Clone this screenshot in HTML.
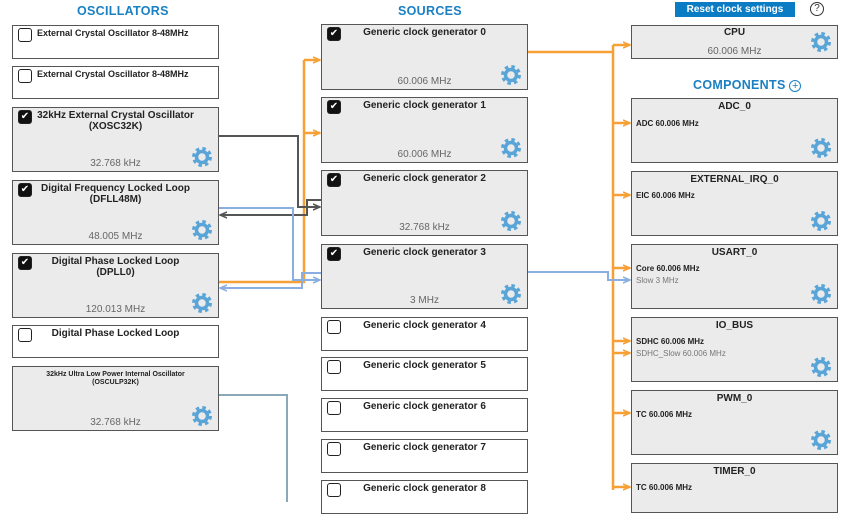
<!DOCTYPE html>
<html><head><meta charset="utf-8"><style>
*{margin:0;padding:0;box-sizing:border-box}
body{width:860px;height:502px;overflow:hidden;background:#fff;font-family:"Liberation Sans",sans-serif;position:relative}
.b{position:absolute;border:1.5px solid #555;background:#ebebeb}
.w{background:#fff}
.t{position:absolute;left:0;right:0;top:2px;text-align:center;font-size:10px;font-weight:bold;color:#222;line-height:11px}
.f{position:absolute;left:0;right:0;bottom:2px;text-align:center;font-size:10px;color:#666}
.cb{position:absolute;left:5px;top:2px;width:14px;height:14px;border:1.5px solid #222;border-radius:3px;background:#fff}
.cb.on{background:#111;color:#fff;font-size:10px;line-height:12px;text-align:center;font-family:"DejaVu Sans",sans-serif}
.g{position:absolute;right:6px;bottom:4px;width:20px;height:20px}
.h{position:absolute;font-size:12.5px;font-weight:bold;color:#1a80c4;letter-spacing:.3px}
.l{position:absolute;left:4px;font-size:8px;font-weight:bold;color:#222}
.l2{position:absolute;left:4px;font-size:8px;color:#777}
svg.c{position:absolute;left:0;top:0}
</style></head><body>
<svg width="0" height="0" style="position:absolute"><defs><g id="gear"><circle cx="10" cy="10" r="8" fill="none" stroke="#5aa5d8" stroke-width="4" stroke-dasharray="3.3 3"/><circle cx="10" cy="10" r="5.5" fill="none" stroke="#5aa5d8" stroke-width="3.5"/></g></defs></svg>
<div class="h" style="left:77px;top:4px">OSCILLATORS</div>
<div class="h" style="left:398px;top:4px">SOURCES</div>
<div style="position:absolute;left:675px;top:2px;width:120px;height:15px;background:#0a7cc4;color:#fff;font-size:10px;font-weight:bold;text-align:center;line-height:15px">Reset clock settings</div>
<div style="position:absolute;left:810px;top:2px;width:14px;height:14px;border:1px solid #333;border-radius:50%;font-size:10px;text-align:center;line-height:12px;color:#333">?</div>
<div class="h" style="left:693px;top:78px">COMPONENTS <span style="display:inline-block;width:12px;height:12px;border:1px solid #1a80c4;border-radius:50%;font-size:11px;line-height:10px;text-align:center;font-weight:normal">+</span></div>

<div class="b w" style="left:12px;top:25px;width:207px;height:34px"><div class="cb"></div><div class="t" style="left:24px;text-align:left;font-size:9px">External Crystal Oscillator 8-48MHz</div></div>
<div class="b w" style="left:12px;top:66px;width:207px;height:33px"><div class="cb"></div><div class="t" style="left:24px;text-align:left;font-size:9px">External Crystal Oscillator 8-48MHz</div></div>
<div class="b" style="left:12px;top:107px;width:207px;height:65px"><div class="cb on">✔</div><div class="t">32kHz External Crystal Oscillator<br>(XOSC32K)</div><div class="f">32.768 kHz</div><svg class="g"><use href="#gear"/></svg></div>
<div class="b" style="left:12px;top:180px;width:207px;height:65px"><div class="cb on">✔</div><div class="t">Digital Frequency Locked Loop<br>(DFLL48M)</div><div class="f">48.005 MHz</div><svg class="g"><use href="#gear"/></svg></div>
<div class="b" style="left:12px;top:253px;width:207px;height:65px"><div class="cb on">✔</div><div class="t">Digital Phase Locked Loop<br>(DPLL0)</div><div class="f">120.013 MHz</div><svg class="g"><use href="#gear"/></svg></div>
<div class="b w" style="left:12px;top:325px;width:207px;height:33px"><div class="cb"></div><div class="t">Digital Phase Locked Loop</div></div>
<div class="b" style="left:12px;top:366px;width:207px;height:65px"><div class="t" style="font-size:7px;line-height:8px;top:4px">32kHz Ultra Low Power Internal Oscillator<br>(OSCULP32K)</div><div class="f">32.768 kHz</div><svg class="g"><use href="#gear"/></svg></div>

<div class="b" style="left:321px;top:24px;width:207px;height:66px"><div class="cb on">✔</div><div class="t">Generic clock generator 0</div><div class="f">60.006 MHz</div><svg class="g"><use href="#gear"/></svg></div>
<div class="b" style="left:321px;top:97px;width:207px;height:66px"><div class="cb on">✔</div><div class="t">Generic clock generator 1</div><div class="f">60.006 MHz</div><svg class="g"><use href="#gear"/></svg></div>
<div class="b" style="left:321px;top:170px;width:207px;height:66px"><div class="cb on">✔</div><div class="t">Generic clock generator 2</div><div class="f">32.768 kHz</div><svg class="g"><use href="#gear"/></svg></div>
<div class="b" style="left:321px;top:244px;width:207px;height:65px"><div class="cb on">✔</div><div class="t">Generic clock generator 3</div><div class="f">3 MHz</div><svg class="g"><use href="#gear"/></svg></div>
<div class="b w" style="left:321px;top:317px;width:207px;height:34px"><div class="cb"></div><div class="t">Generic clock generator 4</div></div>
<div class="b w" style="left:321px;top:357px;width:207px;height:34px"><div class="cb"></div><div class="t">Generic clock generator 5</div></div>
<div class="b w" style="left:321px;top:398px;width:207px;height:34px"><div class="cb"></div><div class="t">Generic clock generator 6</div></div>
<div class="b w" style="left:321px;top:439px;width:207px;height:34px"><div class="cb"></div><div class="t">Generic clock generator 7</div></div>
<div class="b w" style="left:321px;top:480px;width:207px;height:34px"><div class="cb"></div><div class="t">Generic clock generator 8</div></div>

<div class="b" style="left:631px;top:25px;width:207px;height:34px"><div class="t" style="top:1px">CPU</div><div class="f" style="bottom:1px">60.006 MHz</div><svg class="g" style="bottom:6px"><use href="#gear"/></svg></div>
<div class="b" style="left:631px;top:98px;width:207px;height:65px"><div class="t">ADC_0</div><div class="l" style="top:20px">ADC 60.006 MHz</div><svg class="g"><use href="#gear"/></svg></div>
<div class="b" style="left:631px;top:171px;width:207px;height:65px"><div class="t">EXTERNAL_IRQ_0</div><div class="l" style="top:19px">EIC 60.006 MHz</div><svg class="g"><use href="#gear"/></svg></div>
<div class="b" style="left:631px;top:244px;width:207px;height:65px"><div class="t">USART_0</div><div class="l" style="top:19px">Core 60.006 MHz</div><div class="l2" style="top:31px">Slow 3 MHz</div><svg class="g"><use href="#gear"/></svg></div>
<div class="b" style="left:631px;top:317px;width:207px;height:65px"><div class="t">IO_BUS</div><div class="l" style="top:19px">SDHC 60.006 MHz</div><div class="l2" style="top:31px">SDHC_Slow 60.006 MHz</div><svg class="g"><use href="#gear"/></svg></div>
<div class="b" style="left:631px;top:390px;width:207px;height:65px"><div class="t">PWM_0</div><div class="l" style="top:19px">TC 60.006 MHz</div><svg class="g"><use href="#gear"/></svg></div>
<div class="b" style="left:631px;top:463px;width:207px;height:50px"><div class="t">TIMER_0</div><div class="l" style="top:19px">TC 60.006 MHz</div></div>

<svg class="c" width="860" height="502" fill="none">
<defs>
<marker id="ao" markerWidth="8" markerHeight="8" refX="7" refY="4" orient="auto" markerUnits="userSpaceOnUse"><path d="M0,1 L7,4 L0,7" stroke="#f7a035" stroke-width="1.5" fill="none"/></marker>
<marker id="ag" markerWidth="8" markerHeight="8" refX="7" refY="4" orient="auto" markerUnits="userSpaceOnUse"><path d="M0,1 L7,4 L0,7" stroke="#555" stroke-width="1.5" fill="none"/></marker>
<marker id="ab" markerWidth="8" markerHeight="8" refX="7" refY="4" orient="auto" markerUnits="userSpaceOnUse"><path d="M0,1 L7,4 L0,7" stroke="#8aaee0" stroke-width="1.5" fill="none"/></marker>
</defs>
<g stroke="#f7a035" stroke-width="2.5">
<path d="M219,282 H304 V60"/>
<path d="M304,60 H320" marker-end="url(#ao)"/>
<path d="M304,133 H320" marker-end="url(#ao)"/>
<path d="M528,52 H613 M613,45 V490"/>
<path d="M613,45 H630" marker-end="url(#ao)"/>
<path d="M613,123 H630" marker-end="url(#ao)"/>
<path d="M613,195 H630" marker-end="url(#ao)"/>
<path d="M613,268 H630" marker-end="url(#ao)"/>
<path d="M613,341 H630" marker-end="url(#ao)"/>
<path d="M613,353 H630" marker-end="url(#ao)"/>
<path d="M613,413 H630" marker-end="url(#ao)"/>
<path d="M613,487 H630" marker-end="url(#ao)"/>
</g>
<g stroke="#555" stroke-width="2">
<path d="M219,136 H298 V207 H320" marker-end="url(#ag)"/>
<path d="M321,200 H307 V215 H220" marker-end="url(#ag)"/>
</g>
<g stroke="#8aaee0" stroke-width="2">
<path d="M219,208 H293 V280 H320" marker-end="url(#ab)"/>
<path d="M321,273 H302 V288 H220" marker-end="url(#ab)"/>
<path d="M528,272 H608 V280 H630" marker-end="url(#ab)"/>
</g>
<path d="M219,395 H287 V502" stroke="#8aa8b8" stroke-width="2"/>
</svg>
</body></html>
